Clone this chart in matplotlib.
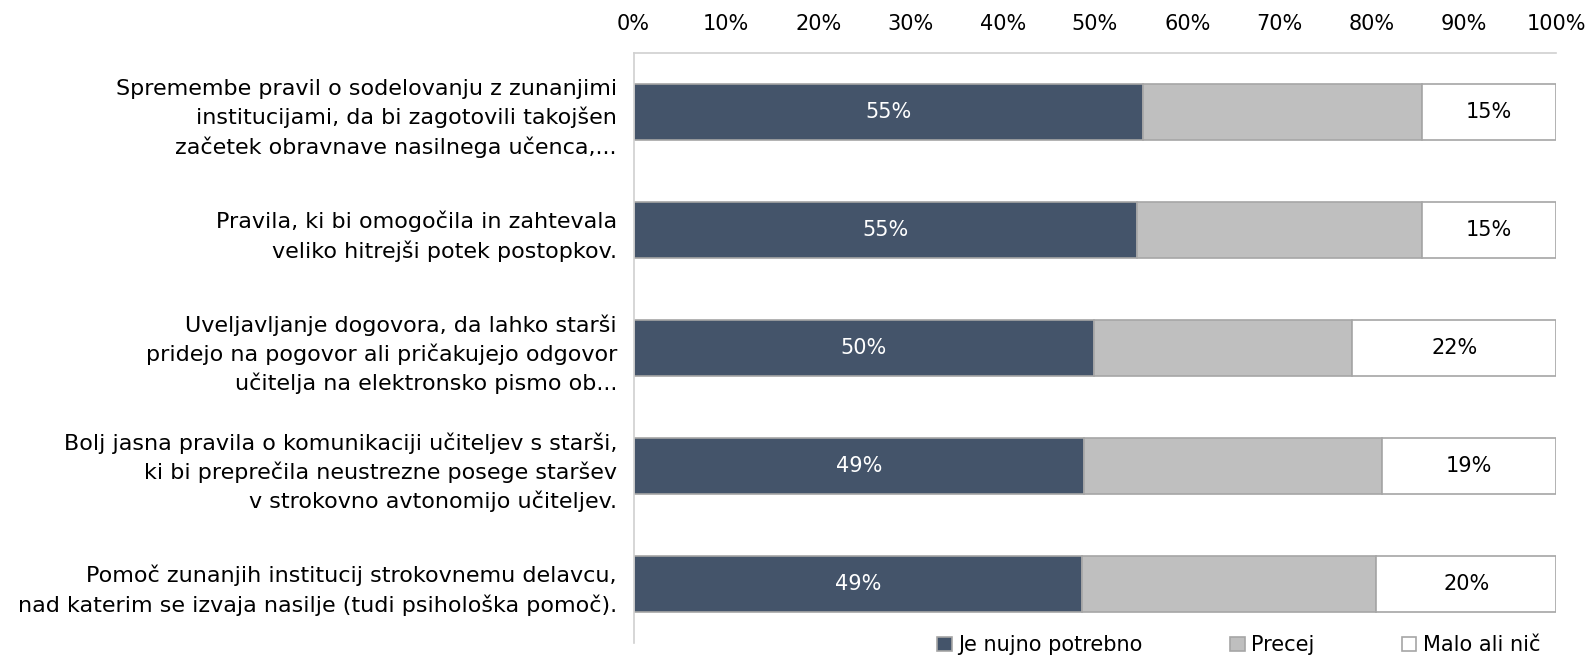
import matplotlib
matplotlib.use("Agg")
import matplotlib.pyplot as plt
import numpy as np

plt.rcParams['font.family'] = ['DejaVu Sans']

categories = [
    "Spremembe pravil o sodelovanju z zunanjimi\ninstitucijami, da bi zagotovili takojšen\nzačetek obravnave nasilnega učenca,...",
    "Pravila, ki bi omogočila in zahtevala\nveliko hitrejši potek postopkov.",
    "Uveljavljanje dogovora, da lahko starši\npridejo na pogovor ali pričakujejo odgovor\nučitelja na elektronsko pismo ob...",
    "Bolj jasna pravila o komunikaciji učiteljev s starši,\nki bi preprečila neustrezne posege staršev\nv strokovno avtonomijo učiteljev.",
    "Pomoč zunanjih institucij strokovnemu delavcu,\nnad katerim se izvaja nasilje (tudi psihološka pomoč).",
]
series_names = ["Je nujno potrebno", "Precej", "Malo ali nič"]
nujno = [55.2, 54.6, 49.9, 48.8, 48.6]
precej = [30.2, 30.8, 28.0, 32.3, 31.9]
malo = [14.6, 14.6, 22.1, 18.9, 19.5]
tick_labels = ["0%", "10%", "20%", "30%", "40%", "50%", "60%", "70%", "80%", "90%", "100%"]

colors = ["#44546A", "#BFBFBF", "#FFFFFF"]
edge = "#A6A6A6"

fig = plt.figure(figsize=(15.88, 6.57), dpi=100)
ax = fig.add_axes([0.399, 0.021, 0.581, 0.898])

y = np.arange(len(categories))
left = np.zeros(len(categories))
bars = []
for vals, c, name in zip([nujno, precej, malo], colors, series_names):
    b = ax.barh(y, vals, left=left, height=0.47, color=c, edgecolor=edge,
                linewidth=1.2, label=name)
    bars.append(b)
    left = left + np.array(vals)

# data labels on first and last segments
for i in range(len(categories)):
    ax.text(nujno[i] / 2, y[i], f"{round(nujno[i]):.0f}%", ha="center", va="center",
            color="white", fontsize=15)
    xm = nujno[i] + precej[i] + malo[i] / 2
    ax.text(xm, y[i], f"{round(malo[i]):.0f}%", ha="center", va="center",
            color="black", fontsize=15)

ax.set_xlim(0, 100)
ax.set_ylim(len(categories) - 0.5, -0.5)
ax.set_xticks(np.arange(0, 101, 10))
ax.set_xticklabels(tick_labels, fontsize=15)
ax.xaxis.tick_top()
ax.tick_params(axis="x", length=0, pad=14)
ax.set_yticks(y)
ax.set_yticklabels(categories, fontsize=16, linespacing=1.45)
ax.tick_params(axis="y", length=0, pad=12)

for s in ["right", "bottom"]:
    ax.spines[s].set_visible(False)
ax.spines["left"].set_color("#D0D0D0")
ax.spines["top"].set_color("#D0D0D0")
ax.spines["left"].set_linewidth(1.2)
ax.spines["top"].set_linewidth(1.2)

fig.legend(handles=bars, labels=series_names, loc="center", bbox_to_anchor=(0.78, 0.018),
           ncol=3, frameon=False, fontsize=15, handlelength=0.7, handleheight=0.7,
           handletextpad=0.3, columnspacing=4.2)

fig.savefig("out.png", dpi=100)
